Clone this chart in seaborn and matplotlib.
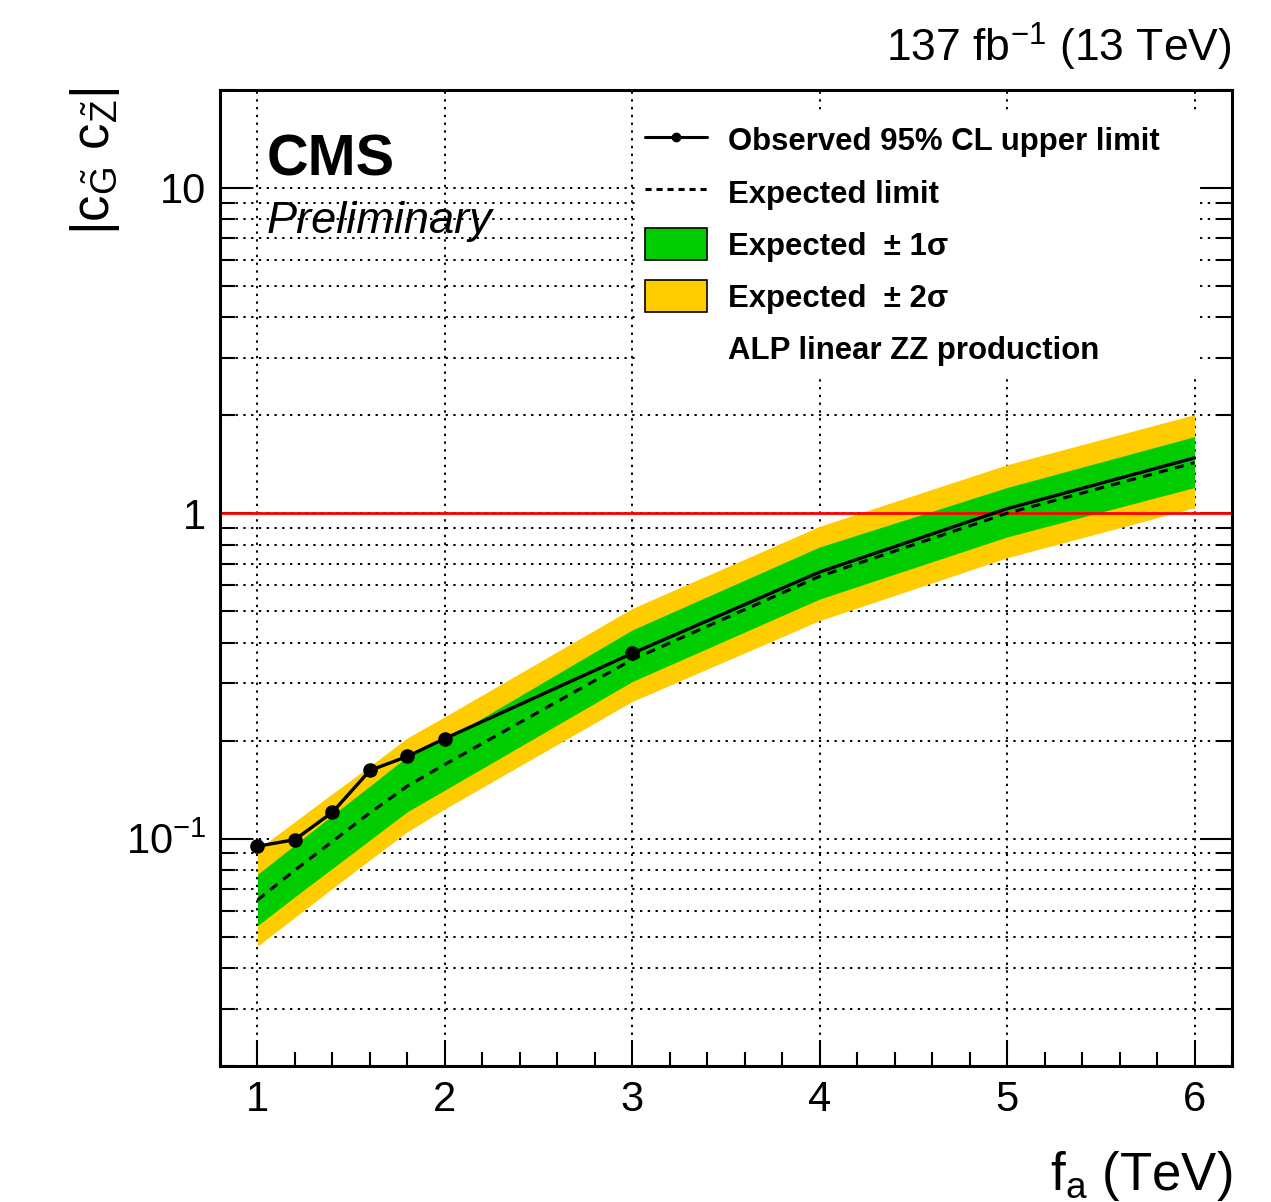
import numpy as np
import pandas as pd
import matplotlib
matplotlib.use("Agg")
import matplotlib.pyplot as plt
import matplotlib.ticker as mticker
from matplotlib.lines import Line2D
from matplotlib.patches import Patch, Rectangle
import seaborn as sns

# ---------------- data ----------------
fa = [1.0, 1.2, 1.4, 1.6, 1.8, 2.0, 3.0, 4.0, 5.0, 6.0]
observed = [0.0947, 0.0993, 0.1205, 0.162, 0.179, 0.203, 0.371, 0.66, 1.033, 1.48]
expected = [0.0647, 0.080, 0.098, 0.120, 0.145, 0.169, 0.355, 0.64, 1.00, 1.43]
minus1 = [0.054, 0.0663, 0.081, 0.099, 0.121, 0.141, 0.304, 0.545, 0.846, 1.20]
plus1 = [0.0776, 0.0957, 0.118, 0.145, 0.179, 0.201, 0.438, 0.788, 1.20, 1.72]
minus2 = [0.0467, 0.0573, 0.0703, 0.086, 0.105, 0.1234, 0.264, 0.468, 0.73, 1.04]
plus2 = [0.0925, 0.1128, 0.1375, 0.167, 0.204, 0.237, 0.51, 0.912, 1.41, 2.01]
marked_fa = fa[:7]
marked_obs = observed[:7]
xticks = [1, 2, 3, 4, 5, 6]
yticks = [0.1, 1, 10]
ytick_labels = [r"$10^{-1}$", "1", "10"]
legend_labels = ["Observed 95% CL upper limit", "Expected limit",
                 "Expected  \u00b1 1\u03c3", "Expected  \u00b1 2\u03c3",
                 "ALP linear ZZ production"]

df = pd.DataFrame({"fa": fa, "observed": observed, "expected": expected})
df_mark = pd.DataFrame({"fa": marked_fa, "observed": marked_obs})

# ---------------- style ----------------
sns.set_theme(style="white")
plt.rcParams["font.family"] = ["Liberation Sans", "DejaVu Sans"]
plt.rcParams["mathtext.fontset"] = "custom"
plt.rcParams["mathtext.rm"] = "Liberation Sans"
plt.rcParams["mathtext.it"] = "Liberation Sans:italic"
plt.rcParams["mathtext.bf"] = "Liberation Sans:bold"
for k in ["text.color", "axes.labelcolor", "xtick.color", "ytick.color", "axes.edgecolor"]:
    plt.rcParams[k] = "black"

GREEN = "#00CC00"
YELLOW = "#FFCC00"

fig = plt.figure(figsize=(12.71, 12.02), dpi=100)
W, H = 1271, 1202
ax = fig.add_axes([220 / W, 1 - 1066 / H, (1232 - 220) / W, (1066 - 90) / H])

ax.set_yscale("log")
ax.set_xlim(0.8, 6.2)
ax.set_ylim(0.02, 20)

# grid
ax.set_axisbelow(True)
gridstyle = dict(color="black", linestyle=(0, (1.2, 2.8)), linewidth=1.4)
ax.grid(True, which="major", axis="x", **gridstyle)
ax.grid(True, which="both", axis="y", **gridstyle)

# white box behind legend hides grid
ax.add_patch(Rectangle(((636 - 220) / 1012, (1066 - 377) / 976),
                       (1198 - 636) / 1012, (377 - 110) / 976,
                       transform=ax.transAxes, facecolor="white",
                       edgecolor="none", zorder=1))

# bands
ax.fill_between(fa, minus2, plus2, color=YELLOW, linewidth=0, zorder=2)
ax.fill_between(fa, minus1, plus1, color=GREEN, linewidth=0, zorder=3)

# reference line at 1
ax.axhline(1.0, color="#FF0000", linewidth=2.0, zorder=4)

# expected & observed
sns.lineplot(data=df, x="fa", y="expected", ax=ax, color="black",
             linewidth=2.2, linestyle=(0, (3.0, 2.4)), zorder=5, legend=False)
sns.lineplot(data=df, x="fa", y="observed", ax=ax, color="black",
             linewidth=2.4, zorder=6, legend=False)
sns.scatterplot(data=df_mark, x="fa", y="observed", ax=ax, color="black",
                s=110, edgecolor="black", linewidth=0, zorder=7, legend=False)

# ticks
ax.xaxis.set_major_locator(mticker.FixedLocator(xticks))
ax.xaxis.set_major_formatter(mticker.FixedFormatter([str(v) for v in xticks]))
ax.xaxis.set_minor_locator(mticker.MultipleLocator(0.2))
ax.yaxis.set_major_locator(mticker.FixedLocator(yticks))
ax.yaxis.set_major_formatter(mticker.FixedFormatter(ytick_labels))
ax.yaxis.set_minor_locator(mticker.LogLocator(base=10, subs=np.arange(2, 10)))
ax.yaxis.set_minor_formatter(mticker.NullFormatter())

ax.tick_params(axis="x", which="major", direction="in", length=19, width=1.5,
               labelsize=30, pad=10, bottom=True, top=False, color="black",
               labelcolor="black")
ax.tick_params(axis="x", which="minor", direction="in", length=10, width=1.5,
               bottom=True, top=False, color="black")
ax.tick_params(axis="y", which="major", direction="in", length=22, width=1.5,
               labelsize=30, pad=10, left=True, right=True, color="black",
               labelcolor="black")
ax.tick_params(axis="y", which="minor", direction="in", length=11, width=1.5,
               left=True, right=True, color="black")

for s in ax.spines.values():
    s.set_linewidth(2.2)
    s.set_color("black")
    s.set_zorder(10)

ax.set_xlabel("")
ax.set_ylabel("")

# legend
handles = [
    Line2D([], [], color="black", linewidth=2.2, marker="o", markersize=6),
    Line2D([], [], color="black", linewidth=2.2, linestyle=(0, (2.0, 1.6))),
    Patch(facecolor=GREEN, edgecolor="black", linewidth=1.2),
    Patch(facecolor=YELLOW, edgecolor="black", linewidth=1.2),
    Line2D([], [], linestyle="none"),
]
leg = ax.legend(handles, legend_labels, loc="upper left",
                bbox_to_anchor=((645 - 220) / 1012, (1066 - 124) / 976),
                frameon=False, borderpad=0, borderaxespad=0,
                handlelength=2.0, handleheight=1.2, handletextpad=0.68,
                labelspacing=0.60, prop={"weight": "bold", "size": 22.4})
leg.set_zorder(12)
for t in leg.get_texts():
    t.set_color("black")

# texts
fig.text(267 / W, 1 - 175 / H, "CMS", fontsize=41.5, fontweight="bold",
         ha="left", va="baseline", color="black")
fig.text(267 / W, 1 - 233 / H, "Preliminary", fontsize=32.5, style="italic",
         ha="left", va="baseline", color="black")
fig.text(1232 / W, 1 - 62 / H, r"137 fb$^{-1}$ (13 TeV)", fontsize=32,
         ha="right", va="baseline", color="black")
fig.text(1232 / W, 1 - 1190 / H, r"f$_{\mathrm{a}}$ (TeV)", fontsize=38,
         ha="right", va="baseline", color="black")
fig.text(95 / W, 1 - 88 / H,
         r"$|\mathrm{c}_{\tilde{\mathrm{G}}}\ \mathrm{c}_{\tilde{\mathrm{Z}}}|$",
         fontsize=38, rotation=90, ha="center", va="top", color="black")

fig.savefig("out.png", dpi=100)
